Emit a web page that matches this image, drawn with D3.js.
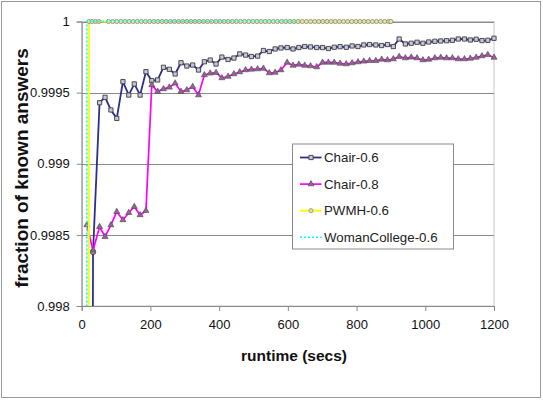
<!DOCTYPE html>
<html>
<head>
<meta charset="utf-8">
<script src="https://cdn.jsdelivr.net/npm/d3@7"></script>
<style>
  html, body { margin: 0; padding: 0; background: #fff; }
  svg { display: block; font-family: "Liberation Sans", Arial, sans-serif; }
</style>
</head>
<body>
<svg id="chart" width="543" height="400"></svg>
<script>
// Runtime (seconds) at which each Chair measurement was taken
const chairTimes = [15, 33, 52, 68, 85, 102, 120, 137, 153, 170, 187, 204, 221, 238, 255, 272, 289, 306, 323, 340, 357, 374, 391,
  408, 426, 443, 460, 477, 494, 512, 529, 546, 563, 580, 598, 615, 632, 649, 666, 684, 701, 718, 735, 752, 770, 787, 804,
  821, 838, 856, 873, 890, 907, 924, 942, 959, 976, 993, 1010, 1028, 1045, 1062, 1079, 1096, 1114, 1131, 1148, 1165, 1182, 1200];

// Fraction of known answers, Chair with threshold 0.6
const chair06 = [0.980, 0.99838, 0.999429, 0.999467, 0.999378, 0.999319, 0.999577, 0.999483, 0.999561, 0.999483, 0.999647,
  0.999584, 0.999589, 0.999678, 0.999664, 0.999631, 0.99971, 0.999687, 0.999694, 0.999659, 0.999717, 0.999729, 0.999701,
  0.99975, 0.999733, 0.999743, 0.999772, 0.999764, 0.999754, 0.999757, 0.999796, 0.999789, 0.999807, 0.999814, 0.999817,
  0.999807, 0.999817, 0.999824, 0.999821, 0.999817, 0.999817, 0.99981, 0.999819, 0.999823, 0.999819, 0.999828, 0.999824,
  0.999835, 0.999838, 0.999835, 0.999831, 0.999838, 0.999824, 0.999877, 0.999842, 0.999847, 0.999854, 0.999847, 0.999856,
  0.999861, 0.999863, 0.999865, 0.999868, 0.999877, 0.999877, 0.99987, 0.999875, 0.999866, 0.999868, 0.999882];

// Fraction of known answers, Chair with threshold 0.8
const chair08 = [0.99857, 0.99839, 0.998557, 0.998487, 0.998569, 0.998663, 0.998605, 0.998656, 0.998698, 0.99864, 0.99867,
  0.999554, 0.999507, 0.999526, 0.999537, 0.999566, 0.999507, 0.999518, 0.999542, 0.999483, 0.999624, 0.999636, 0.99964,
  0.999603, 0.999613, 0.999631, 0.999645, 0.999659, 0.999663, 0.999666, 0.99967, 0.999638, 0.999641, 0.999659, 0.999712,
  0.999691, 0.999698, 0.999691, 0.999687, 0.99968, 0.999712, 0.999712, 0.999712, 0.999705, 0.999701, 0.999708, 0.999715,
  0.99972, 0.999724, 0.999724, 0.999733, 0.999729, 0.999736, 0.999753, 0.999743, 0.999748, 0.999743, 0.999729, 0.999733,
  0.999743, 0.999747, 0.999743, 0.999743, 0.999736, 0.999736, 0.99974, 0.999747, 0.999757, 0.999766, 0.999747];

// PWMH with threshold 0.6: every answer known after the first measurement
const pwmhTimes = [0, 21, 30, 40, 50, 78, 90, 102, 114, 126, 138, 150, 162, 174, 186, 198, 210, 222, 234, 246, 258, 270, 282,
  294, 306, 318, 330, 342, 354, 366, 378, 390, 402, 414, 426, 438, 450, 462, 474, 486, 498, 510, 522, 534, 546, 558, 570,
  582, 594, 606, 618, 630, 642, 654, 666, 678, 690, 702, 714, 726, 738, 750, 762, 774, 786, 798, 810, 822, 834, 846, 858,
  870, 882, 894, 900];
const pwmh06 = [0.9, 1, 1, 1, 1, 1, 1, 1, 1, 1, 1, 1, 1, 1, 1, 1, 1, 1, 1, 1, 1, 1, 1, 1, 1, 1, 1, 1, 1, 1, 1, 1, 1, 1, 1,
  1, 1, 1, 1, 1, 1, 1, 1, 1, 1, 1, 1, 1, 1, 1, 1, 1, 1, 1, 1, 1, 1, 1, 1, 1, 1, 1, 1, 1, 1, 1, 1, 1, 1, 1, 1, 1, 1, 1, 1];

// WomanCollege with threshold 0.6
const womanTimes = [0, 15, 630];
const woman06 = [0.9, 1, 1];

const xTicks = [0, 200, 400, 600, 800, 1000, 1200];
const yTicks = [0.998, 0.9985, 0.999, 0.9995, 1];
const yTickLabels = ["0.998", "0.9985", "0.999", "0.9995", "1"];

const seriesNames = ["Chair-0.6", "Chair-0.8", "PWMH-0.6", "WomanCollege-0.6"];

const svg = d3.select("#chart");
const W = 543, H = 400;
const plot = { left: 81.7, right: 494, top: 21.5, bottom: 306 };

// outer frame
svg.append("rect").attr("x", 1.5).attr("y", 1.5).attr("width", W - 4).attr("height", H - 4)
  .attr("fill", "#fff").attr("stroke", "#9a9a9a").attr("stroke-width", 1);

const x = d3.scaleLinear().domain([0, 1200]).range([plot.left, plot.right]);
const y = d3.scaleLinear().domain([0.998, 1]).range([plot.bottom, plot.top]);

// plot area border
svg.append("rect").attr("x", plot.left).attr("y", plot.top)
  .attr("width", plot.right - plot.left).attr("height", plot.bottom - plot.top)
  .attr("fill", "#fff").attr("stroke", "#c8c8c8").attr("stroke-width", 1);

// horizontal gridlines
svg.append("g").selectAll("line").data(yTicks.slice(1)).join("line")
  .attr("x1", plot.left).attr("x2", plot.right)
  .attr("y1", d => Math.round(y(d)) + 0.5).attr("y2", d => Math.round(y(d)) + 0.5)
  .attr("stroke", "#8a8a8a").attr("stroke-width", 1);

// axes
const yAxis = d3.axisLeft(y).tickValues(yTicks).tickFormat((d, i) => yTickLabels[i]).tickSize(5).tickPadding(6);
const gy = svg.append("g").attr("transform", `translate(${plot.left},0)`).call(yAxis);
const xAxis = d3.axisBottom(x).tickValues(xTicks).tickFormat(d3.format("d")).tickSize(5).tickPadding(9);
const gx = svg.append("g").attr("transform", `translate(0,${plot.bottom})`).call(xAxis);
[gx, gy].forEach(g => {
  g.select(".domain").attr("stroke", "#888");
  g.selectAll(".tick line").attr("stroke", "#888");
  g.selectAll(".tick text").attr("fill", "#111").attr("font-size", 13)
    .attr("font-family", "'Liberation Sans', Arial, sans-serif");
});
gy.selectAll(".tick text").attr("dx", "-1");

// axis titles
svg.append("text").attr("x", 294).attr("y", 361).attr("text-anchor", "middle")
  .attr("font-size", 15.5).attr("font-weight", "bold").attr("fill", "#111").text("runtime (secs)");
svg.append("text").attr("transform", "translate(28,168) rotate(-90)").attr("text-anchor", "middle")
  .attr("font-size", 19).attr("font-weight", "bold").attr("fill", "#111").text("fraction of known answers");

// clip region for the data
svg.append("clipPath").attr("id", "plotClip").append("rect")
  .attr("x", plot.left).attr("y", plot.top - 6).attr("width", plot.right - plot.left + 6)
  .attr("height", plot.bottom - plot.top + 6);

const data = svg.append("g").attr("clip-path", "url(#plotClip)");
const line = d3.line().x(d => x(d[0])).y(d => y(d[1]));
const pairs = (ts, vs) => ts.map((t, i) => [t, vs[i]]);

const blue = "#2e2e8c", magenta = "#ff00ff", yellow = "#ffff00", cyan = "#00ffff";

// Chair-0.6
const s1 = pairs(chairTimes, chair06);
data.append("path").datum(s1).attr("d", line).attr("fill", "none").attr("stroke", blue).attr("stroke-width", 1.8);
data.append("g").selectAll("path").data(s1).join("path")
  .attr("transform", d => `translate(${x(d[0])},${y(d[1])})`)
  .attr("d", d3.symbol(d3.symbolSquare, 18)())
  .attr("fill", "#c8c8d0").attr("stroke", "#3a3a4a").attr("stroke-width", 0.9);

// Chair-0.8
const s2 = pairs(chairTimes, chair08);
data.append("path").datum(s2).attr("d", line).attr("fill", "none").attr("stroke", magenta).attr("stroke-width", 1.7);
data.append("g").selectAll("path").data(s2).join("path")
  .attr("transform", d => `translate(${x(d[0])},${y(d[1])})`)
  .attr("d", d3.symbol(d3.symbolTriangle, 16)())
  .attr("fill", "#8a6a8a").attr("stroke", "#5a3a5a").attr("stroke-width", 0.6);

// PWMH-0.6
const s3 = pairs(pwmhTimes, pwmh06);
data.append("path").datum(s3).attr("d", line).attr("fill", "none").attr("stroke", yellow).attr("stroke-width", 2);
data.append("g").selectAll("circle").data(s3).join("circle")
  .attr("cx", d => x(d[0])).attr("cy", d => y(d[1])).attr("r", 2.1)
  .attr("fill", "#e4e4a4").attr("stroke", "#8a8a6a").attr("stroke-width", 0.8);

// WomanCollege-0.6
const s4 = pairs(womanTimes, woman06);
data.append("path").datum(s4).attr("d", line).attr("fill", "none").attr("stroke", cyan)
  .attr("stroke-width", 1.5).attr("stroke-dasharray", "2,2");

// legend
const lg = svg.append("g").attr("transform", "translate(292.5,144)");
lg.append("rect").attr("width", 161).attr("height", 105).attr("fill", "#fff")
  .attr("stroke", "#8a8a8a").attr("stroke-width", 1);
const legendStyles = [
  { color: blue, width: 1.8, dash: null, marker: "square" },
  { color: magenta, width: 1.7, dash: null, marker: "triangle" },
  { color: yellow, width: 2, dash: null, marker: "circle" },
  { color: cyan, width: 1.5, dash: "2,2", marker: null }
];
seriesNames.forEach((name, i) => {
  const cy = 13.5 + i * 26.6;
  const st = legendStyles[i];
  const g = lg.append("g");
  g.append("line").attr("x1", 7.5).attr("x2", 29).attr("y1", cy).attr("y2", cy)
    .attr("stroke", st.color).attr("stroke-width", st.width).attr("stroke-dasharray", st.dash);
  if (st.marker === "square") {
    g.append("path").attr("transform", `translate(18.5,${cy})`).attr("d", d3.symbol(d3.symbolSquare, 18)())
      .attr("fill", "#c8c8d0").attr("stroke", "#3a3a4a").attr("stroke-width", 0.9);
  } else if (st.marker === "triangle") {
    g.append("path").attr("transform", `translate(18.5,${cy})`).attr("d", d3.symbol(d3.symbolTriangle, 16)())
      .attr("fill", "#8a6a8a").attr("stroke", "#5a3a5a").attr("stroke-width", 0.6);
  } else if (st.marker === "circle") {
    g.append("circle").attr("cx", 18.5).attr("cy", cy).attr("r", 2.1)
      .attr("fill", "#e4e4a4").attr("stroke", "#8a8a6a").attr("stroke-width", 0.8);
  }
  g.append("text").attr("x", 31.5).attr("y", cy).attr("dy", "0.36em")
    .attr("font-size", 13.3).attr("fill", "#222").text(name);
});
</script>
</body>
</html>
